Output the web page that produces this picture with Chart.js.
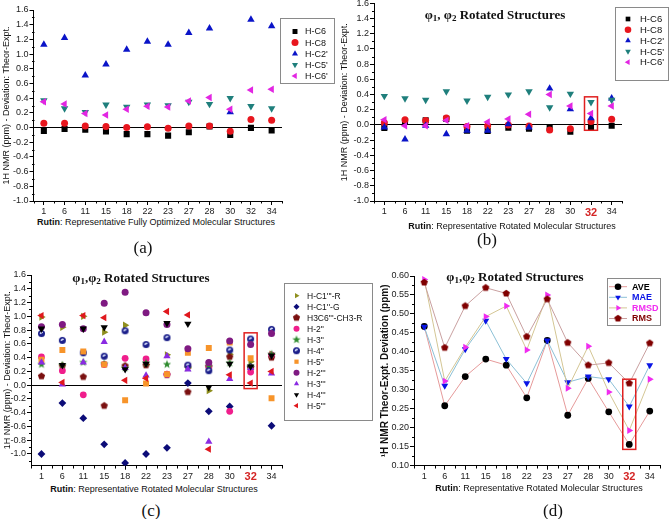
<!DOCTYPE html>
<html>
<head>
<meta charset="utf-8">
<script src="https://cdn.jsdelivr.net/npm/chart.js@4.4.1/dist/chart.umd.min.js"></script>
<style>
  body { margin: 0; background: #fff; width: 669px; height: 519px; overflow: hidden; position: relative;
         font-family: "Liberation Sans", Arial, sans-serif; }
  canvas { position: absolute; }
  .t { position: absolute; white-space: nowrap; color: #111; transform: translate(-50%, -50%); line-height: 1; }
  .xt { font-size: 9px; }
  .cap { font-family: "Liberation Serif", "Times New Roman", serif; font-size: 17px; }
  .ttl { font-family: "Liberation Serif", "Times New Roman", serif; font-weight: bold; font-size: 13px; }
  .ttl sub { font-size: 9px; vertical-align: -2px; }
</style>
</head>
<body>
<canvas id="chartA" width="335" height="216" style="left:0;top:0"></canvas>
<canvas id="chartB" width="334" height="221" style="left:335px;top:-5px"></canvas>
<canvas id="chartC" width="380" height="225" style="left:0;top:255px"></canvas>
<canvas id="chartD" width="297" height="225" style="left:372px;top:255px"></canvas>

<div class="t xt" style="left:156px;top:222px"><b>Rutin</b>: Representative Fully Optimized Molecular Structures</div>
<div class="t xt" style="left:512px;top:226px"><b>Rutin</b>: Representative Rotated Molecular Structures</div>
<div class="t xt" style="left:154px;top:489px"><b>Rutin</b>: Representative Rotated Molecular Structures</div>
<div class="t xt" style="left:539px;top:488px"><b>Rutin</b>: Representative Rotated Molecular Structures</div>

<div class="t ttl" style="left:495px;top:15px">φ<sub>1</sub>, φ<sub>2</sub> Rotated Structures</div>
<div class="t ttl" style="left:141px;top:278px">φ<sub>1</sub>,φ<sub>2</sub> Rotated Structures</div>
<div class="t ttl" style="left:515px;top:277px">φ<sub>1</sub>,φ<sub>2</sub> Rotated Structures</div>

<div class="t cap" style="left:143px;top:247px">(a)</div>
<div class="t cap" style="left:487px;top:239px">(b)</div>
<div class="t cap" style="left:151px;top:510px">(c)</div>
<div class="t cap" style="left:553px;top:510px">(d)</div>

<script>
// structures shown on every x axis
const categories = ['1', '6', '11', '15', '18', '22', '23', '27', '28', '30', '32', '34'];
const highlightIndex = 10; // structure 32

// (a) fully optimized
const aHC6  = [-0.045, -0.02, -0.03, -0.055, -0.09, -0.09, -0.11, -0.065, 0.015, -0.10, -0.005, -0.04];
const aHC8  = [0.06, 0.06, 0.02, 0.015, 0.0, 0.01, -0.01, 0.02, 0.02, -0.05, 0.11, 0.10];
const aHC2p = [1.13, 1.22, 0.71, 0.86, 1.06, 1.17, 1.13, 1.29, 1.35, 0.21, 1.47, 1.38];
const aHC5p = [0.37, 0.26, 0.21, 0.31, 0.28, 0.31, 0.30, 0.35, 0.32, 0.40, 0.29, 0.26];
const aHC6p = [0.35, 0.32, 0.19, 0.17, 0.25, 0.29, 0.28, 0.36, 0.41, 0.25, 0.51, 0.52];

// (b) rotated, aglycone protons
const bHC6  = [-0.04, 0.05, 0.06, 0.08, -0.075, -0.08, -0.035, -0.05, -0.04, -0.09, -0.03, -0.01];
const bHC8  = [0.03, 0.07, 0.06, 0.09, -0.02, -0.01, 0.0, -0.015, -0.065, -0.05, 0.045, 0.075];
const bHC2p = [-0.03, -0.19, -0.01, -0.12, -0.075, -0.075, 0.01, -0.03, 0.48, 0.21, 0.09, 0.35];
const bHC5p = [0.38, 0.35, 0.33, 0.44, 0.32, 0.37, 0.40, 0.44, 0.23, 0.41, 0.30, 0.33];
const bHC6p = [0.07, -0.01, -0.01, 0.06, -0.01, 0.04, 0.08, 0.14, 0.40, 0.25, 0.15, 0.25];

// (c) rotated, sugar protons
const cHC1R  = [0.99, 0.84, 1.00, 0.77, 0.87, 0.30, 0.44, 0.25, -0.08, 0.45, 0.34, 0.45];
const cHC1G  = [-1.0, -0.26, -0.48, -0.86, -1.13, -1.0, -0.91, 0.03, -0.38, -0.31, 0.27, -0.59];
const cH3C6  = [0.13, 0.28, 0.12, -0.30, 0.28, 0.29, 0.15, -0.10, 0.27, 0.41, 0.25, 0.40];
const cH2pp  = [0.41, 0.21, -0.14, 0.30, 0.39, 0.38, 0.16, 0.28, 0.27, -0.38, 0.19, 0.44];
const cH3pp  = [0.30, 0.29, 0.33, 0.31, 0.25, 0.32, 0.30, 0.25, 0.27, 0.32, 0.27, 0.45];
const cH4pp  = [0.75, 0.65, 0.47, 0.42, 0.79, 0.59, 0.69, 0.29, 0.21, 0.51, 0.67, 0.81];
const cH5pp  = [0.37, 0.51, 0.49, 0.30, -0.22, 0.025, 0.16, 0.47, 0.54, 0.62, 0.39, -0.19];
const cH2ppp = [0.85, 0.88, 0.82, 1.19, 1.35, 1.05, 0.88, 0.53, 0.33, 0.64, 0.59, 0.75];
const cH3ppp = [0.33, 0.01, 0.33, 0.63, 0.25, 0.14, 0.42, 0.23, -0.82, 0.09, 0.25, 0.17];
const cH4ppp = [0.82, 0.29, 0.82, 0.84, 0.23, 0.31, 0.90, 0.89, -0.03, 0.31, 0.27, 0.43];
const cH5ppp = [1.01, 0.04, 1.01, 0.98, 0.07, 0.10, 1.07, 1.02, -0.93, 0.15, 0.03, 0.20];

// (d) error statistics
const dAVE  = [0.467, 0.258, 0.335, 0.381, 0.365, 0.279, 0.430, 0.233, 0.330, 0.242, 0.156, 0.244];
const dMAE  = [0.466, 0.311, 0.407, 0.482, 0.381, 0.317, 0.430, 0.320, 0.335, 0.328, 0.256, 0.365];
const dRMSD = [0.591, 0.323, 0.412, 0.493, 0.521, 0.405, 0.550, 0.304, 0.415, 0.294, 0.193, 0.328];
const dRMS  = [0.583, 0.411, 0.521, 0.569, 0.554, 0.440, 0.539, 0.424, 0.365, 0.371, 0.317, 0.423];

const FONT = '"Liberation Sans", Arial, sans-serif';
const RED = '#d42424';

// small bitmap markers for shapes Chart.js doesn't have
function marker(size, draw) {
  const c = document.createElement('canvas');
  c.width = c.height = size;
  draw(c.getContext('2d'), size / 2);
  return c;
}
function polygon(g, c, n, rOut, rIn, color) {
  g.fillStyle = color;
  g.beginPath();
  const k = rIn ? 2 * n : n;
  for (let i = 0; i < k; i++) {
    const r = rIn && i % 2 ? rIn : rOut;
    const a = -Math.PI / 2 + i * Math.PI * 2 / k;
    g.lineTo(c + r * Math.cos(a), c + r * Math.sin(a));
  }
  g.closePath();
  g.fill();
}
const starMark = marker(10, (g, c) => polygon(g, c, 5, 4.4, 1.8, '#2e8b2e'));
const pentMark = marker(9, (g, c) => polygon(g, c, 5, 3.8, 0, '#7a1010'));
const pentMarkD = marker(9, (g, c) => polygon(g, c, 5, 3.8, 0, '#800000'));
const halfMark = marker(9, (g, c) => {
  g.fillStyle = '#1b1f8a';
  g.beginPath(); g.arc(c, c, 3.5, 0, Math.PI * 2); g.fill();
  g.fillStyle = '#dfe6ff';
  g.beginPath(); g.arc(c, c, 1.8, Math.PI * 0.85, Math.PI * 1.85); g.fill();
});

const minorTicks = {
  id: 'minorTicks',
  afterDraw(chart, args, o) {
    if (!o.yStep) return;
    const { ctx, scales: { x, y } } = chart;
    ctx.save();
    ctx.strokeStyle = '#000';
    ctx.lineWidth = 1;
    ctx.beginPath();
    const n0 = Math.ceil(y.min / o.yStep - 1e-6), n1 = Math.floor(y.max / o.yStep + 1e-6);
    const left = Math.round(y.right) + 0.5;
    for (let n = n0; n <= n1; n++) {
      if (n % 2 === 0) continue;
      const py = Math.round(y.getPixelForValue(n * o.yStep)) + 0.5;
      ctx.moveTo(left - 2.5, py); ctx.lineTo(left, py);
    }
    const bottom = Math.round(x.top);
    for (let i = 0; i <= categories.length; i++) {
      const px = Math.round(x.getPixelForValue(i - 0.5)) + 0.5;
      ctx.moveTo(px, bottom); ctx.lineTo(px, bottom + 2.5);
    }
    ctx.stroke();
    ctx.restore();
  }
};

const highlightBox = {
  id: 'highlightBox',
  afterDatasetsDraw(chart, args, o) {
    if (o.top == null) return;
    const { ctx, scales: { x, y } } = chart;
    const cx = x.getPixelForValue(highlightIndex);
    const y0 = y.getPixelForValue(o.top), y1 = y.getPixelForValue(o.bottom);
    ctx.save();
    ctx.strokeStyle = '#e02020';
    ctx.lineWidth = 1.5;
    ctx.strokeRect(cx - o.half, y0, o.half * 2, y1 - y0);
    ctx.restore();
  }
};

const boxLegend = {
  id: 'boxLegend',
  afterDraw(chart, args, o) {
    if (!o.left) return;
    const ctx = chart.ctx;
    ctx.save();
    ctx.strokeStyle = '#8a8a8a';
    ctx.lineWidth = 1;
    ctx.strokeRect(o.left + 0.5, o.top + 0.5, o.width, o.height);
    ctx.font = (o.bold ? 'bold ' : '') + o.size + 'px ' + FONT;
    ctx.textBaseline = 'middle';
    chart.data.datasets.forEach((ds, i) => {
      const yy = o.rowTop + i * o.rowGap;
      if (o.lineHalf) {
        ctx.strokeStyle = ds.borderColor;
        ctx.beginPath();
        ctx.moveTo(o.markerX - o.lineHalf, yy); ctx.lineTo(o.markerX + o.lineHalf, yy);
        ctx.stroke();
      }
      ctx.fillStyle = ds.pointBackgroundColor;
      Chart.helpers.drawPoint(ctx, {
        pointStyle: ds.pointStyle, radius: o.markRadius, rotation: ds.pointRotation || 0, borderWidth: 0
      }, o.markerX, yy);
      ctx.fillStyle = o.textColors ? o.textColors[i] : '#111';
      ctx.fillText(ds.label, o.textX, yy + 0.5);
    });
    ctx.restore();
  }
};

Chart.register(minorTicks, highlightBox, boxLegend);

function series(label, data, color, style, rot, r) {
  return {
    label, data, showLine: false,
    borderColor: color, backgroundColor: color,
    pointBackgroundColor: color, pointBorderWidth: 0,
    pointStyle: style, pointRotation: rot || 0, pointRadius: r || 4, pointHoverRadius: r || 4
  };
}

function xScale(height, mark32) {
  return {
    type: 'category', offset: true,
    grid: { drawOnChartArea: false, tickLength: 4, tickColor: '#000' },
    border: { color: '#000', width: 1 },
    ticks: {
      autoSkip: false, maxRotation: 0, padding: 1,
      color: (c) => (mark32 && c.index === highlightIndex ? RED : '#222'),
      font: (c) => (mark32 && c.index === highlightIndex
        ? { family: FONT, size: 11, weight: 'bold' } : { family: FONT, size: 9 })
    },
    afterFit: (s) => { s.height = height; }
  };
}

function yScale(width, min, max, step, titleText, titlePad, opts) {
  opts = opts || {};
  return {
    type: 'linear', min, max,
    grid: {
      color: (c) => (opts.zeroLine && c.tick && Math.abs(c.tick.value) < 1e-9 ? '#000' : 'rgba(0,0,0,0)'),
      tickColor: '#000', tickLength: 4
    },
    border: { color: '#000', width: 1 },
    ticks: {
      stepSize: step, padding: 1, color: '#222',
      font: { family: FONT, size: 9 },
      callback: (v) => v.toFixed(opts.decimals || 1)
    },
    afterBuildTicks: (s) => {
      s.ticks = s.ticks.filter((t) => Math.abs(t.value / step - Math.round(t.value / step)) < 1e-6);
    },
    title: {
      display: true, text: titleText, color: '#111',
      font: { family: FONT, size: opts.titleSize || 9, weight: opts.titleBold ? 'bold' : 'normal' },
      padding: { top: titlePad, bottom: 0 }
    },
    afterFit: (s) => { s.width = width; }
  };
}

function makeChart(id, datasets, layoutPad, scales, plugins) {
  datasets.forEach((d, i) => { d.order = -i; });
  return new Chart(document.getElementById(id), {
    type: 'line',
    data: { labels: categories, datasets },
    options: {
      responsive: false, animation: false, devicePixelRatio: 1,
      layout: { padding: layoutPad },
      scales,
      plugins: Object.assign({ legend: { display: false }, tooltip: { enabled: false } }, plugins)
    }
  });
}

const yTitleH = '1H NMR (ppm) - Deviation: Theor-Expt.';

const aglyconeSeries = (c6, c8, c2p, c5p, c6p) => [
  series('H-C6', c6, '#000000', 'rect', 0, 4.3),
  series('H-C8', c8, '#e8161e', 'circle', 0, 3.5),
  series("H-C2'", c2p, '#0a14c8', 'triangle', 0, 4.3),
  series("H-C5'", c5p, '#1f7f7c', 'triangle', 180, 4.3),
  series("H-C6'", c6p, '#e226e2', 'triangle', -90, 4.3)
];

// (a)
makeChart('chartA', aglyconeSeries(aHC6, aHC8, aHC2p, aHC5p, aHC6p),
  { left: 0, top: 10, right: 53, bottom: 0 },
  { x: xScale(15, false), y: yScale(33.5, -1.0, 1.6, 0.2, yTitleH, 1.5, { zeroLine: true }) },
  {
    minorTicks: { yStep: 0.1 },
    boxLegend: { left: 280, top: 18, width: 54, height: 65, rowTop: 31.5, rowGap: 11.1,
                 markerX: 295, textX: 305, size: 9, markRadius: 3.5 }
  });

// (b)
makeChart('chartB', aglyconeSeries(bHC6, bHC8, bHC2p, bHC5p, bHC6p),
  { left: 0, top: 8.3, right: 47, bottom: 0 },
  { x: xScale(15, true), y: yScale(39, -1.0, 1.6, 0.2, yTitleH, 4.5, { zeroLine: true }) },
  {
    minorTicks: { yStep: 0.1 },
    highlightBox: { top: 0.37, bottom: -0.07, half: 6.5 },
    boxLegend: { left: 280, top: 12, width: 53, height: 73, rowTop: 24, rowGap: 10.8,
                 markerX: 293, textX: 305, size: 9.5, markRadius: 3.3 }
  });

// (c)
makeChart('chartC', [
    series("H-C1'''-R", cHC1R, '#8f8f1e', 'triangle', 90, 4.2),
    series("H-C1''-G", cHC1G, '#0c0c78', 'rectRot', 0, 3.9),
    series("H3C6'''-CH3-R", cH3C6, '#7a1010', pentMark, 0, 4),
    series("H-2''", cH2pp, '#f01e8c', 'circle', 0, 3.4),
    series("H-3''", cH3pp, '#2e8b2e', starMark, 0, 4),
    series("H-4''", cH4pp, '#1b1f8a', halfMark, 0, 4),
    series("H-5''", cH5pp, '#f7942a', 'rect', 0, 4.2),
    series("H-2'''", cH2ppp, '#7f1a82', 'circle', 0, 3.5),
    series("H-3'''", cH3ppp, '#8a2be2', 'triangle', 0, 4.2),
    series("H-4'''", cH4ppp, '#000000', 'triangle', 180, 4.2),
    series("H-5'''", cH5ppp, '#e0181e', 'triangle', -90, 4.2)
  ],
  { left: 0, top: 20, right: 98, bottom: 0 },
  { x: xScale(14.3, true), y: yScale(31, -1.17, 1.6, 0.2, yTitleH, 2, { zeroLine: true }) },
  {
    minorTicks: { yStep: 0.1 },
    highlightBox: { top: 0.76, bottom: -0.05, half: 6.5 },
    boxLegend: { left: 284, top: 28, width: 88, height: 137, rowTop: 40.7, rowGap: 11,
                 markerX: 296.5, textX: 307, size: 8.5, markRadius: 3 }
  });

// (d)
const lineSeries = (label, data, color, lineColor, style, rot, r) => {
  const s = series(label, data, color, style, rot, r);
  s.showLine = true;
  s.borderColor = lineColor;
  s.borderWidth = 1;
  return s;
};
makeChart('chartD', [
    lineSeries('AVE', dAVE, '#000000', '#e69a9a', 'circle', 0, 3.4),
    lineSeries('MAE', dMAE, '#0a14e6', '#8cc0d6', 'triangle', 180, 4),
    lineSeries('RMSD', dRMSD, '#f02cf0', '#d4c694', 'triangle', 90, 4),
    lineSeries('RMS', dRMS, '#800000', '#c9a0a0', pentMarkD, 0, 4)
  ],
  { left: 0, top: 21, right: 9, bottom: 0 },
  { x: xScale(14.3, true),
    y: yScale(42, 0.1, 0.6, 0.05, '\u00B9H NMR Theor-Expt. Deviation (ppm)', 7.5,
              { decimals: 2, titleBold: true, titleSize: 10 }) },
  {
    minorTicks: { yStep: 0.025 },
    highlightBox: { top: 0.328, bottom: 0.143, half: 6.5 },
    boxLegend: { left: 235, top: 23, width: 53, height: 47, rowTop: 31.7, rowGap: 10.6,
                 markerX: 246, textX: 260, size: 9, bold: true, markRadius: 3.3, lineHalf: 9,
                 textColors: ['#000000', '#0a14e6', '#f02cf0', '#800000'] }
  });
</script>
</body>
</html>
